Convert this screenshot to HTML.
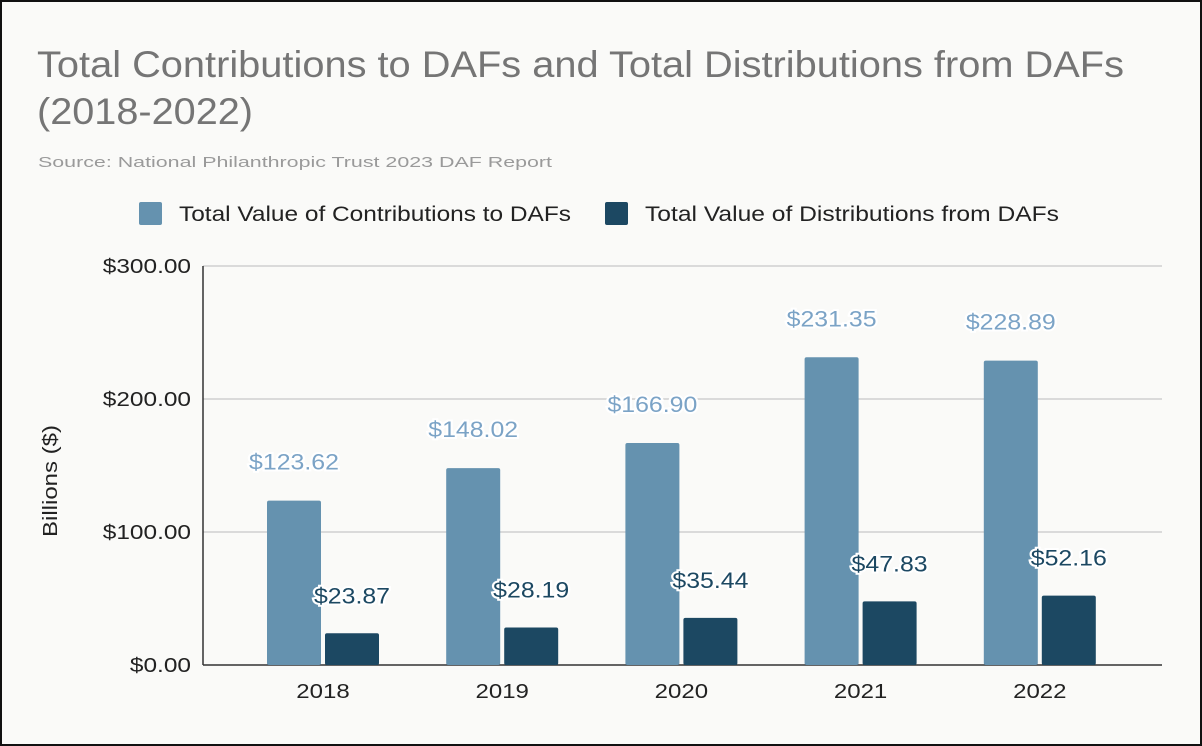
<!DOCTYPE html>
<html><head><meta charset="utf-8"><style>
html,body{margin:0;padding:0;background:#fafaf8;}
svg{position:absolute;left:0;top:0;}
text{font-family:"Liberation Sans",Arial,sans-serif;}
</style></head><body>
<svg id="chart" width="1202" height="746">
<rect x="1" y="1" width="1200" height="744" fill="#fafaf8" stroke="#111" stroke-width="2"/>
<text class="w" data-k="1" x="37" y="77" font-size="37" fill="#757575" textLength="1087" lengthAdjust="spacingAndGlyphs">Total Contributions to DAFs and Total Distributions from DAFs</text>
<text x="37" y="124" font-size="37" fill="#757575" textLength="216" lengthAdjust="spacingAndGlyphs">(2018-2022)</text>
<text x="38" y="167" font-size="15" fill="#9a9a9a" textLength="514" lengthAdjust="spacingAndGlyphs">Source: National Philanthropic Trust 2023 DAF Report</text>
<g>
<rect x="139" y="202" width="23" height="23" rx="2" fill="#6592af"/>
<text x="179" y="221" font-size="21" fill="#222" textLength="392" lengthAdjust="spacingAndGlyphs">Total Value of Contributions to DAFs</text>
<rect x="605" y="202" width="23" height="23" rx="2" fill="#1c4862"/>
<text x="645" y="221" font-size="21" fill="#222" textLength="414" lengthAdjust="spacingAndGlyphs">Total Value of Distributions from DAFs</text>
</g>
<text transform="translate(57,481) rotate(-90)" text-anchor="middle" font-size="20" fill="#222" textLength="112" lengthAdjust="spacingAndGlyphs">Billions ($)</text>
<g id="grid"></g><g id="bars"></g><g id="labels"></g>
</svg>
<script>
const categories=["2018","2019","2020","2021","2022"];
const contributions=[123.62,148.02,166.90,231.35,228.89];
const distributions=[23.87,28.19,35.44,47.83,52.16];
const yTicks=[0,100,200,300];
const yTickLabels=["$0.00","$100.00","$200.00","$300.00"];

const NS="http://www.w3.org/2000/svg";
const x0=203,x1=1162,yBase=665,yTop=266,yMax=300;
const y=v=>yBase-(v/yMax)*(yBase-yTop);
const center=i=>323+i*179.2;
function mk(tag,attrs,parent,txt){const e=document.createElementNS(NS,tag);for(const k in attrs)e.setAttribute(k,attrs[k]);if(txt!==undefined)e.textContent=txt;parent.appendChild(e);return e;}
function widen(e,k){const w=e.getComputedTextLength();e.setAttribute('textLength',w*k);e.setAttribute('lengthAdjust','spacingAndGlyphs');}
const grid=document.getElementById('grid'),bars=document.getElementById('bars'),labels=document.getElementById('labels');
yTicks.forEach((t,i)=>{
  if(t>0){const g=mk('line',{x1:x0,x2:x1,y1:y(t),y2:y(t),stroke:'#cfcfcf','stroke-width':1.5},grid);
  
  }
  const l=mk('text',{x:191,y:y(t)+7,'text-anchor':'end','font-size':20,fill:'#222'},grid,yTickLabels[i]);
  
  
  widen(l,1.22);
});
const ax=mk('line',{x1:x0,x2:x0,y1:yTop,y2:yBase,stroke:'#333','stroke-width':1.5},grid);


const bx=mk('line',{x1:x0,x2:x1,y1:yBase,y2:yBase,stroke:'#333','stroke-width':1.5},grid);


const bw=54,gap=4;
categories.forEach((c,i)=>{
  const cx=center(i);
  const lx=cx-gap/2-bw, dx=cx+gap/2;
  const b1=mk('rect',{x:lx,y:y(contributions[i]),width:bw,height:yBase-y(contributions[i]),rx:2,fill:'#6592af'},bars);
  
  
  const b2=mk('rect',{x:dx,y:y(distributions[i]),width:bw,height:yBase-y(distributions[i]),rx:2,fill:'#1c4862'},bars);
  
  
  const t1=mk('text',{x:lx+bw/2,y:y(contributions[i])-31,'text-anchor':'middle','font-size':22,fill:'#7ba3c6',stroke:'#fff','stroke-width':4,'paint-order':'stroke'},labels,'$'+contributions[i].toFixed(2));
  
  
  widen(t1,1.13);
  const t2=mk('text',{x:dx+bw/2,y:y(distributions[i])-30,'text-anchor':'middle','font-size':22,fill:'#1c4862',stroke:'#fff','stroke-width':4,'paint-order':'stroke'},labels,'$'+distributions[i].toFixed(2));
  
  
  widen(t2,1.13);
  const xl=mk('text',{x:cx,y:698,'text-anchor':'middle','font-size':20,fill:'#222'},labels,c);
  
  
  widen(xl,1.2);
});
</script>
</body></html>
